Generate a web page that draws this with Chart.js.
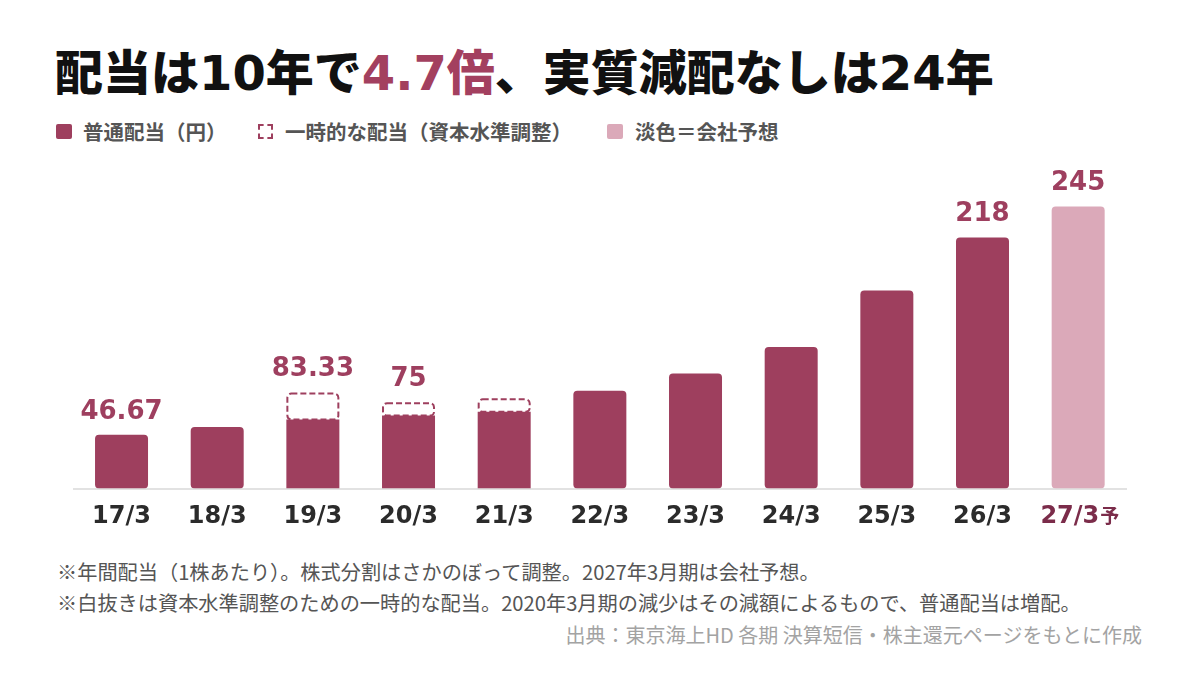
<!DOCTYPE html>
<html lang="ja">
<head>
<meta charset="utf-8">
<script src="https://cdn.jsdelivr.net/npm/chart.js@4.4.1/dist/chart.umd.min.js"></script>
<style>
  html, body { margin: 0; padding: 0; background: #fff; }
  body { width: 1200px; height: 680px; position: relative; overflow: hidden; font-family: "Noto Sans CJK JP", sans-serif; }
  .title { position: absolute; left: 55px; top: 44px; font-size: 48px; line-height: 58px; font-weight: 900; color: #111; white-space: nowrap; font-family: "DejaVu Sans", "Noto Sans CJK JP", sans-serif; }
  .title em { font-style: normal; color: #a3405f; }
  .lg { position: absolute; top: 119px; height: 24px; line-height: 24px; font-size: 20.5px; font-weight: 700; color: #555; white-space: nowrap; }
  .sq { position: absolute; top: 124px; width: 16px; height: 15px; box-sizing: border-box; }
  .note { position: absolute; left: 57px; font-size: 20.2px; line-height: 28px; color: #555; white-space: nowrap; }
  .src { position: absolute; right: 58px; top: 621px; font-size: 20px; line-height: 28px; color: #a3a3a3; white-space: nowrap; }
  #chart { position: absolute; left: 0; top: 150px; }
</style>
</head>
<body>
<div class="title">配当は10年で<em>4.7倍</em>、実質減配なしは24年</div>

<div class="sq" style="left:56px;background:#9e3f5e;border-radius:2px"></div>
<div class="lg" style="left:83px">普通配当（円）</div>
<div class="sq" style="left:258px;width:15px;border:2px dashed #9e3f5e"></div>
<div class="lg" style="left:285px">一時的な配当（資本水準調整）</div>
<div class="sq" style="left:607px;background:#dba9b9;border-radius:2px"></div>
<div class="lg" style="left:635px">淡色＝会社予想</div>

<canvas id="chart" width="1200" height="400"></canvas>

<div class="note" style="top:558px">※年間配当（1株あたり）。株式分割はさかのぼって調整。2027年3月期は会社予想。</div>
<div class="note" style="top:589px">※白抜きは資本水準調整のための一時的な配当。2020年3月期の減少はその減額によるもので、普通配当は増配。</div>
<div class="src">出典：東京海上HD 各期 決算短信・株主還元ページをもとに作成</div>

<script>
// 期（3月期）
const categories = ["17/3", "18/3", "19/3", "20/3", "21/3", "22/3", "23/3", "24/3", "25/3", "26/3", "27/3予"];
// 普通配当（円、分割調整後）
const ordinary = [46.67, 53.33, 60, 63.33, 66.67, 85, 100, 123, 172, 218, 245];
// 一時的な配当（資本水準調整）
const special = [0, 0, 23.33, 11.67, 11.67, 0, 0, 0, 0, 0, 0];
// 棒の上に出す数字
const valueLabels = ["46.67", "", "83.33", "75", "", "", "", "", "", "218", "245"];
// 会社予想かどうか
const forecast = [false, false, false, false, false, false, false, false, false, false, true];

const BAR = "#9e3f5e";
const BAR_LIGHT = "#dba9b9";
const LABEL = "#9e3f5f";

const overlay = {
  id: "overlay",
  afterDatasetsDraw(chart) {
    const ctx = chart.ctx;
    const solid = chart.getDatasetMeta(0).data;
    const extra = chart.getDatasetMeta(1).data;
    ctx.save();
    // dashed boxes for the one-off part
    ctx.setLineDash([6, 3]);
    ctx.lineWidth = 2;
    ctx.strokeStyle = BAR;
    extra.forEach((bar, i) => {
      if (!special[i]) return;
      const w = bar.width;
      ctx.beginPath();
      ctx.roundRect(bar.x - w / 2 + 1, bar.y + 1, w - 2, bar.base - bar.y - 1, 4);
      ctx.stroke();
    });
    ctx.setLineDash([]);
    ctx.font = "bold 26px 'DejaVu Sans'";
    ctx.textAlign = "center";
    ctx.textBaseline = "middle";
    ctx.fillStyle = LABEL;
    valueLabels.forEach((t, i) => {
      if (!t) return;
      const top = special[i] ? extra[i].y : solid[i].y;
      ctx.fillText(t, solid[i].x, top - 23);
    });
    ctx.restore();
  },
  afterDraw(chart) {
    // small 予 after the forecast tick
    const xs = chart.scales.x;
    const ctx = chart.ctx;
    ctx.save();
    forecast.forEach((f, i) => {
      if (!f) return;
      ctx.font = "bold 24px 'DejaVu Sans'";
      const full = ctx.measureText(categories[i].slice(0, -1) + "  ").width;
      const part = ctx.measureText(categories[i].slice(0, -1)).width;
      const x = xs.getPixelForTick(i) - full / 2 + part + 1;
      ctx.font = "bold 19px 'Noto Sans CJK JP'";
      ctx.fillStyle = "#7b2c4a";
      ctx.textAlign = "left";
      ctx.textBaseline = "middle";
      ctx.fillText("予", x, xs.top + 27);
    });
    ctx.restore();
  }
};

new Chart(document.getElementById("chart"), {
  type: "bar",
  data: {
    labels: categories,
    datasets: [
      {
        data: ordinary,
        backgroundColor: forecast.map((f) => (f ? BAR_LIGHT : BAR)),
        borderRadius: 4,
        borderSkipped: false,
        barPercentage: 0.554,
        categoryPercentage: 1,
      },
      {
        data: special,
        backgroundColor: "rgba(255,255,255,0)",
        borderWidth: 0,
        barPercentage: 0.554,
        categoryPercentage: 1,
      },
    ],
  },
  options: {
    responsive: false,
    animation: false,
    layout: { padding: { top: 39.2, left: 73.7, right: 74, bottom: 0 } },
    plugins: { legend: { display: false }, tooltip: { enabled: false } },
    scales: {
      x: {
        stacked: true,
        grid: { display: false, drawTicks: false },
        border: { display: true, color: "#e2e2e2", width: 2 },
        afterFit: (scale) => { scale.height = 61.5; },
        ticks: {
          padding: 14,
          font: { family: "DejaVu Sans", size: 24, weight: "bold" },
          color: (c) => (forecast[c.index] ? "#7b2c4a" : "#2b2b2b"),
          callback: (v, i) => (forecast[i] ? categories[i].slice(0, -1) + "  " : categories[i]),
        },
      },
      y: { stacked: true, display: false, min: 0, max: 260 },
    },
  },
  plugins: [overlay],
});
</script>
</body>
</html>
